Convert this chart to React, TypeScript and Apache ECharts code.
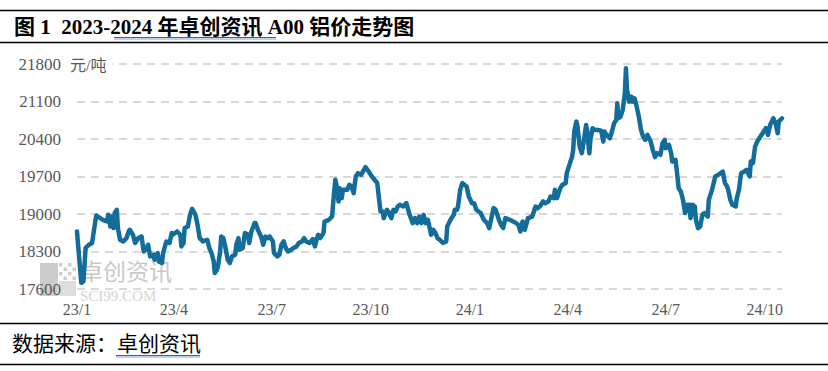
import React, { useEffect, useRef } from "react";
import * as echarts from "echarts";

// x positions as days since 2023-01-01
const days = [
  0, 1, 4, 6, 8, 11, 14, 17, 18, 24, 28, 29, 31, 32, 34, 35, 37, 38, 40, 43, 46, 48, 49, 52, 54, 57, 60, 62, 65, 66, 68, 71, 72, 75, 76, 79, 80, 83, 86, 88, 89, 93, 96, 97, 99,
  100, 103, 105, 107, 110, 112, 114, 117, 121, 123, 125, 127, 128, 130, 131, 133, 134, 136, 138, 140, 142, 144, 147, 148, 150, 151, 154, 156, 159, 160, 162, 165, 166, 168, 171, 173, 175, 177, 179, 182, 183, 186, 188, 190, 192, 194, 196, 199, 201, 204, 206, 209,
  211, 213, 216, 219, 221, 223, 224, 226, 229, 230, 234, 237, 238, 240, 241, 243, 244, 246, 247, 251, 253, 255, 257, 259, 261, 264, 268, 271, 274, 279, 280, 282, 284, 285, 288, 290, 292, 294, 296, 298, 300, 303, 306, 309, 312,
  314, 316, 318, 320, 322, 324, 326, 329, 331, 333, 335, 337, 340, 343, 344, 347, 350, 351, 353, 354, 356, 358, 360, 362, 364, 367, 369, 371, 375, 378, 381, 383, 385, 387, 389, 392, 394, 396, 398, 402, 407, 410, 412, 414, 416, 419, 423,
  426, 428, 430, 433, 435, 438, 440, 443, 444, 446, 449, 451, 454, 455, 458, 460, 461, 462, 464, 465, 467, 469, 471, 473, 474, 476, 477, 479, 481, 484, 487, 489, 490, 492, 495, 497, 499, 501, 502, 503, 505, 507, 509, 510, 511, 513, 515, 516, 518, 520, 522, 524, 526,
  528, 530, 533, 535, 537, 539, 542, 544, 546, 547, 550, 552, 553, 556, 557, 559, 561, 563, 565, 567, 569, 570, 572, 574, 575, 577, 579, 581, 583, 586, 587, 590, 593, 596, 600, 602, 604, 605, 607, 609, 612, 613, 615, 617, 620, 622, 625, 626, 628, 630, 632, 635, 638, 640, 642, 644, 647, 649, 651, 652, 655,
];

// A00 aluminium price, yuan/ton
const prices = [
  18674, 18426, 17715, 17745, 18365, 18426, 18458, 18860, 18972, 18890, 18860, 18985, 18767, 18953, 18737, 19017, 19078, 18737, 18519, 18488, 18550, 18674, 18705, 18612, 18458, 18550, 18580, 18300, 18365, 18426, 18209, 18240, 18147, 18271, 18115, 18085, 18271, 18488, 18458, 18644, 18612, 18674, 18612, 18395, 18458,
  18737, 18767, 18985, 19097, 18985, 18799, 18550, 18488, 18519, 18365, 18271, 18115, 17898, 17960, 18022, 18300, 18580, 18550, 18365, 18147, 18085, 18209, 18240, 18426, 18550, 18333, 18365, 18644, 18612, 18458, 18674, 18830, 18830, 18705, 18580, 18426, 18580, 18550, 18580, 18488, 18271, 18209, 18240, 18426, 18488, 18365, 18300, 18333, 18365, 18395, 18458, 18488,
  18550, 18488, 18458, 18532, 18395, 18550, 18612, 18550, 18644, 18860, 18892, 18953, 19202, 19638, 19545, 19234, 19482, 19296, 19451, 19451, 19545, 19513, 19389, 19700, 19762, 19731, 19874, 19793, 19700, 19576, 19389, 19047, 19047, 18923, 19078, 19017, 18923, 19078, 19047, 19140, 19171, 19140, 19202, 18985, 18830,
  18923, 18830, 18953, 18830, 18985, 18830, 18892, 18612, 18705, 18644, 18550, 18519, 18458, 18488, 18767, 18892, 18985, 19078, 19078, 19140, 19451, 19576, 19545, 19513, 19327, 19202, 19202, 19078, 19017, 18892, 18830, 18737, 18923, 19110, 19078, 18892, 18799, 18737, 18923, 18892, 18842, 18799, 18674, 18860, 18705, 18923, 18953,
  19140, 19110, 19140, 19234, 19202, 19234, 19327, 19296, 19451, 19296, 19482, 19545, 19576, 19762, 19949, 20073, 20197, 20539, 20725, 20632, 20259, 20135, 20383, 20663, 20539, 20135, 20383, 20601, 20570, 20570, 20557, 20352, 20539, 20477, 20414, 20539, 20694, 20756, 21067, 20787, 20818, 20943, 21254, 21720, 21315, 21097, 21191, 21097, 21160, 21004, 20818, 20570, 20445,
  20383, 20477, 20352, 20197, 20060, 20135, 20104, 20321, 20383, 20228, 20290, 20135, 19980, 20011, 19855, 19482, 19420, 19265, 19017, 19171, 19171, 18923, 19171, 19140, 18892, 18737, 18767, 18985, 19017, 18953, 19265, 19451, 19700, 19731, 19793, 19576, 19513, 19451, 19265, 19171, 19140, 19296, 19451, 19762, 19793, 19824, 19700, 19980, 19949, 20259, 20352, 20445, 20539, 20601, 20477, 20663, 20787, 20694, 20508, 20725, 20787,
];

const tickLabels = ["23/1", "23/4", "23/7", "23/10", "24/1", "24/4", "24/7", "24/10"];
const tickDays = [0, 90, 181, 273, 365, 456, 547, 639];

const titleText = "图 1  2023-2024 年卓创资讯 A00 铝价走势图";
const sourceLabel = "数据来源：";
const sourceName = "卓创资讯";
const unitText = "元/吨";

const SERIF = '"Liberation Serif", "Noto Sans CJK SC", serif';

export default function App() {
  const ref = useRef<HTMLDivElement>(null);
  useEffect(() => {
    if (!ref.current) return;
    const chart = echarts.init(ref.current, null, { renderer: "svg" });
    const checker: any[] = [];
    for (let r = 0; r < 4; r++) {
      for (let c = 0; c < 4; c++) {
        if ((r + c) % 2 === 0) {
          checker.push({
            type: "rect",
            z: -1,
            shape: { x: 59 + c * 4.5, y: 263 + r * 4.5, width: 3.5, height: 3.5 },
            style: { fill: "#cfcfcf" },
          });
        }
      }
    }
    chart.setOption({
      animation: false,
      backgroundColor: "#ffffff",
      grid: { left: 77, right: 46, top: 64, bottom: 82, containLabel: false },
      xAxis: {
        type: "value",
        min: 0,
        max: 655,
        z: 3,
        axisLine: { show: false },
        axisTick: { show: false },
        splitLine: { show: false },
        axisLabel: {
          customValues: tickDays,
          showMinLabel: true,
          showMaxLabel: true,
          hideOverlap: false,
          color: "#595959",
          fontFamily: SERIF,
          fontSize: 16,
          margin: 12,
          formatter: (v: number) => {
            const i = tickDays.indexOf(Math.round(v));
            return i >= 0 ? tickLabels[i] : "";
          },
        },
      },
      yAxis: {
        type: "value",
        min: 17600,
        max: 21800,
        interval: 700,
        z: 3,
        axisLine: { show: false },
        axisTick: { show: false },
        axisLabel: {
          color: "#595959",
          fontFamily: SERIF,
          fontSize: 17,
          margin: 16,
          formatter: (v: number) => String(v),
        },
        splitLine: { lineStyle: { color: "#d9d9d9", width: 2, type: [8, 6] } },
      },
      series: [
        {
          type: "line",
          data: days.map((d, i) => [d, prices[i]]),
          symbol: "none",
          z: 5,
          lineStyle: { color: "#136d9b", width: 4.5, join: "round", cap: "round" },
        },
      ],
      graphic: [
        // frame lines
        { type: "line", z: 10, shape: { x1: 0, y1: 10.5, x2: 828, y2: 10.5 }, style: { stroke: "#000", lineWidth: 1.5 } },
        { type: "line", z: 10, shape: { x1: 0, y1: 42.5, x2: 828, y2: 42.5 }, style: { stroke: "#000", lineWidth: 1.5 } },
        { type: "line", z: 10, shape: { x1: 0, y1: 323.5, x2: 828, y2: 323.5 }, style: { stroke: "#000", lineWidth: 1.5 } },
        { type: "line", z: 10, shape: { x1: 0, y1: 364.5, x2: 828, y2: 364.5 }, style: { stroke: "#000", lineWidth: 1.5 } },
        // title
        {
          type: "text",
          z: 10,
          x: 14,
          y: 27,
          style: { text: titleText, fontFamily: SERIF, fontSize: 21, fontWeight: "bold", fill: "#000", verticalAlign: "middle" },
        },
        { type: "line", z: 10, shape: { x1: 114, y1: 37.5, x2: 276, y2: 37.5 }, style: { stroke: "#2f5fcf", lineWidth: 1 } },
        { type: "line", z: 10, shape: { x1: 114, y1: 39, x2: 276, y2: 39 }, style: { stroke: "#7aa3ea", lineWidth: 1 } },
        // footer
        {
          type: "text",
          z: 10,
          x: 12,
          y: 344,
          style: { text: sourceLabel + sourceName, fontFamily: SERIF, fontSize: 21, fill: "#000", verticalAlign: "middle" },
        },
        { type: "line", z: 10, shape: { x1: 116, y1: 355.5, x2: 200, y2: 355.5 }, style: { stroke: "#2f5fcf", lineWidth: 1 } },
        { type: "line", z: 10, shape: { x1: 116, y1: 357, x2: 200, y2: 357 }, style: { stroke: "#7aa3ea", lineWidth: 1 } },
        // unit
        {
          type: "text",
          z: 10,
          x: 68,
          y: 65,
          style: {
            text: unitText,
            fontFamily: SERIF,
            fontSize: 16,
            fill: "#595959",
            verticalAlign: "middle",
            backgroundColor: "#ffffff",
            padding: [2, 6, 2, 2],
          },
        },
        // watermark
        { type: "rect", z: -1, shape: { x: 40, y: 263, width: 18, height: 33 }, style: { fill: "#cccccc" } },
        { type: "rect", z: -1, shape: { x: 59, y: 281, width: 17, height: 15 }, style: { fill: "#dedede" } },
        ...checker,
        {
          type: "text",
          z: -1,
          x: 80,
          y: 270,
          style: { text: "卓创资讯", fontFamily: '"Noto Sans CJK SC"', fontSize: 23, fill: "#c8c8c8", verticalAlign: "middle" },
        },
        {
          type: "text",
          z: -1,
          x: 80,
          y: 296,
          style: { text: "SCI99.COM", fontFamily: '"Liberation Serif"', fontSize: 15, fill: "#d4d4d4", verticalAlign: "middle" },
        },
      ],
    });
    return () => chart.dispose();
  }, []);
  return (
    <div
      ref={ref}
      style={{ position: "fixed", left: 0, top: 0, width: 828, height: 371, background: "#fff" }}
    />
  );
}
